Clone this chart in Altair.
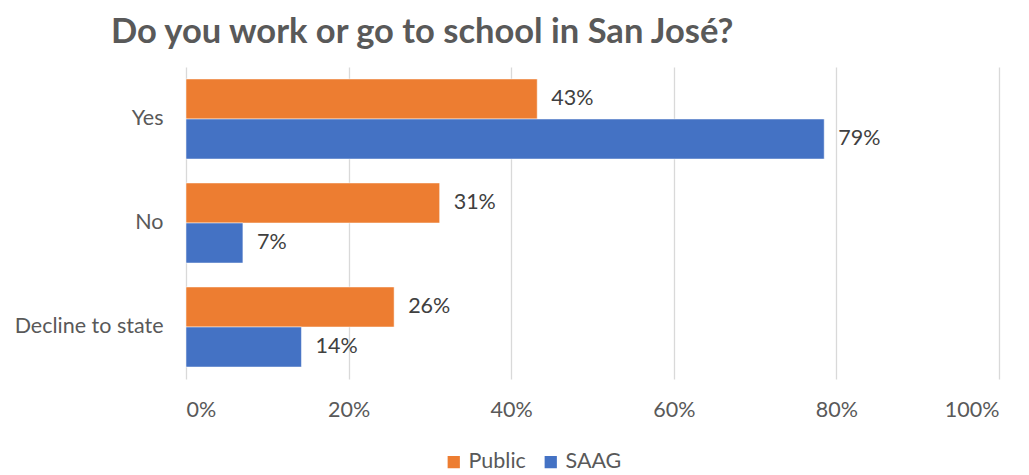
import altair as alt
import pandas as pd

categories = ["Yes", "No", "Decline to state"]
series = ["Public", "SAAG"]
public_values = [0.432, 0.312, 0.256]
saag_values = [0.785, 0.070, 0.142]
x_ticks = [0, 0.2, 0.4, 0.6, 0.8, 1.0]

rows = []
for i, c in enumerate(categories):
    rows.append({"category": c, "series": "Public", "value": public_values[i]})
    rows.append({"category": c, "series": "SAAG", "value": saag_values[i]})
df = pd.DataFrame(rows)

FONT = "Lato"
FS = 21.5
color_scale = alt.Scale(domain=series, range=["#ED7D31", "#4472C4"])

base = alt.Chart(df).encode(
    y=alt.Y("category:N", sort=categories, title=None,
            scale=alt.Scale(paddingInner=0.23, paddingOuter=0.115),
            axis=alt.Axis(labelFontSize=FS, labelColor="#595959", labelFont=FONT,
                          ticks=False, domain=False, labelPadding=23)),
    yOffset=alt.YOffset("series:N", sort=series, scale=alt.Scale(paddingInner=0, paddingOuter=0)),
)

bars = base.mark_bar(stroke="white", strokeWidth=0.5).encode(
    x=alt.X("value:Q", scale=alt.Scale(domain=[0, 1]), title=None,
            axis=alt.Axis(values=x_ticks, format=".0%", labelFontSize=FS, labelColor="#595959",
                          labelFont=FONT, ticks=False, domain=False, labelPadding=20,
                          gridColor="#D9D9D9", gridWidth=1.3)),
    color=alt.Color("series:N", scale=color_scale, title=None,
                    legend=alt.Legend(orient="none", legendX=257, legendY=384, direction="horizontal",
                                      symbolType="square", symbolSize=150, symbolStrokeWidth=0,
                                      labelFontSize=FS, labelColor="#595959", labelFont=FONT,
                                      columnPadding=14, labelOffset=4)),
)

labels = base.mark_text(align="left", dx=14, fontSize=FS, color="#404040", font=FONT).encode(
    x=alt.X("value:Q"),
    text=alt.Text("value:Q", format=".0%"),
)

chart = alt.layer(bars, labels).properties(
    width=813, height=312,
    title=alt.TitleParams("Do you work or go to school in San José?", anchor="start", frame="group",
                          dx=-75, fontSize=34.5, font=FONT, fontWeight="bold", color="#595959",
                          offset=17),
    padding={"left": 178, "top": 59, "right": 22, "bottom": 96},
    autosize=alt.AutoSizeParams(type="none"),
).configure_view(stroke=None)

chart.save("out.html", embed_options={"renderer": "svg", "actions": False})
